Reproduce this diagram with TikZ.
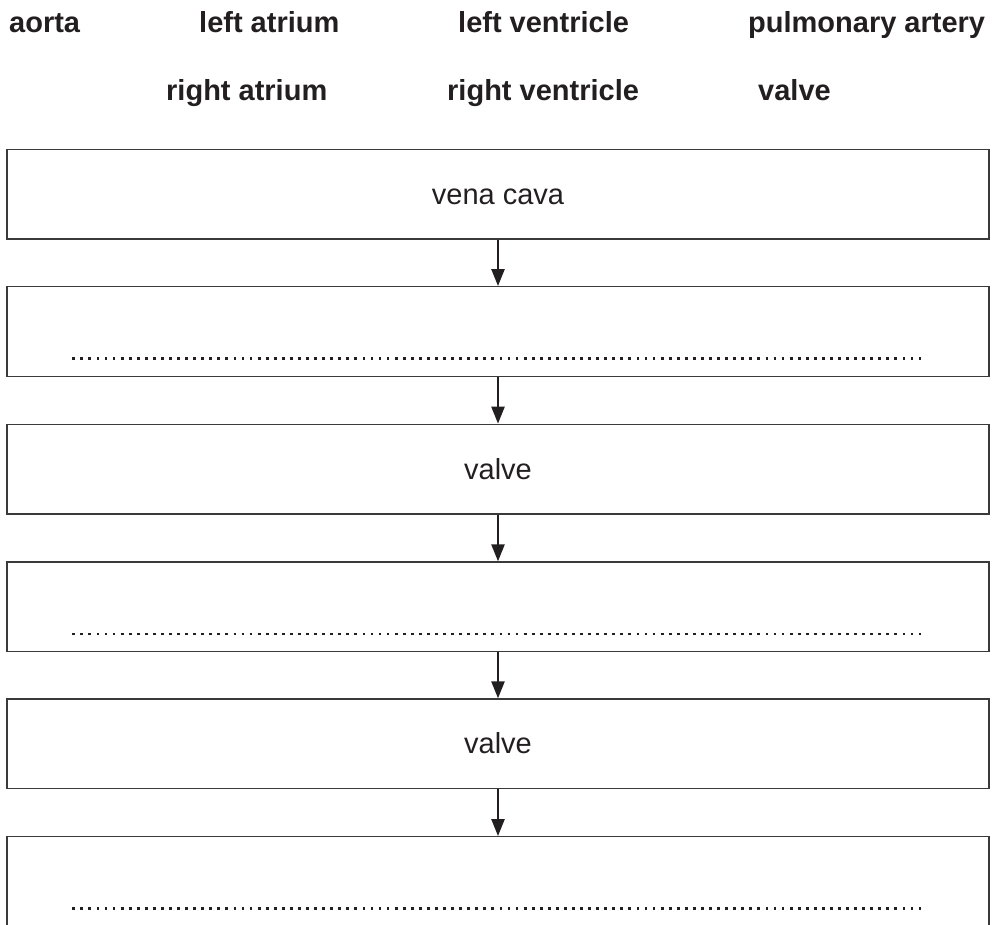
\documentclass[tikz,border=0pt]{standalone}
\usepackage{fontspec}
\setmainfont{Liberation Sans}
\usetikzlibrary{arrows.meta,calc}
\definecolor{ink}{HTML}{231F20}
\definecolor{frame}{HTML}{3A3A3A}
\tikzset{
  lbl/.style={anchor=base west,inner sep=0pt,text=ink,font=\fontsize{29}{34}\selectfont\bfseries},
  boxtxt/.style={anchor=base,inner sep=0pt,text=ink,font=\fontsize{29}{34}\selectfont},
  flowbox/.style={draw=frame,line width=1.3pt,rectangle,inner sep=0pt,minimum width=982pt,minimum height=89.7pt},
  arr/.style={draw=ink,line width=2.4pt,-{Triangle[length=17pt,width=13pt]}},
  dotline/.style={draw=ink,line width=2.8pt,line cap=butt,dash pattern=on 2.8pt off 5.26pt}
}
\begin{document}
\begin{tikzpicture}[x=1pt,y=-1pt]
\useasboundingbox (0,0) rectangle (992,924);
% word bank
\node[lbl] (w1) at (9,32) {aorta};
\node[lbl] (w2) at (199,32) {left atrium};
\node[lbl] (w3) at (458,32) {left ventricle};
\node[lbl] (w4) at (748,32) {pulmonary artery};
\node[lbl] (w5) at (166,100) {right atrium};
\node[lbl] (w6) at (447,100) {right ventricle};
\node[lbl] (w7) at (758,100) {valve};
% boxes
\node[flowbox] (b1) at (498,194.15) {};
\node[flowbox] (b2) at (498,331.55) {};
\node[flowbox] (b3) at (498,469.15) {};
\node[flowbox] (b4) at (498,606.85) {};
\node[flowbox] (b5) at (498,743.85) {};
\node[flowbox] (b6) at (498,881.55) {};
% texts
\node[boxtxt] (t1) at ($(b1.center)+(0,9.85)$) {vena cava};
\node[boxtxt] (t3) at ($(b3.center)+(0,9.85)$) {valve};
\node[boxtxt] (t5) at ($(b5.center)+(0,9.85)$) {valve};
% answer lines
\draw[dotline] ($(b2.north west)+(66,72.7)$) -- ($(b2.north west)+(916,72.7)$);
\draw[dotline] ($(b4.north west)+(66,72.7)$) -- ($(b4.north west)+(916,72.7)$);
\draw[dotline] ($(b6.north west)+(66,72.7)$) -- ($(b6.north west)+(916,72.7)$);
% arrows
\draw[arr] (b1.south) -- (b2.north);
\draw[arr] (b2.south) -- (b3.north);
\draw[arr] (b3.south) -- (b4.north);
\draw[arr] (b4.south) -- (b5.north);
\draw[arr] (b5.south) -- (b6.north);
\end{tikzpicture}
\end{document}
